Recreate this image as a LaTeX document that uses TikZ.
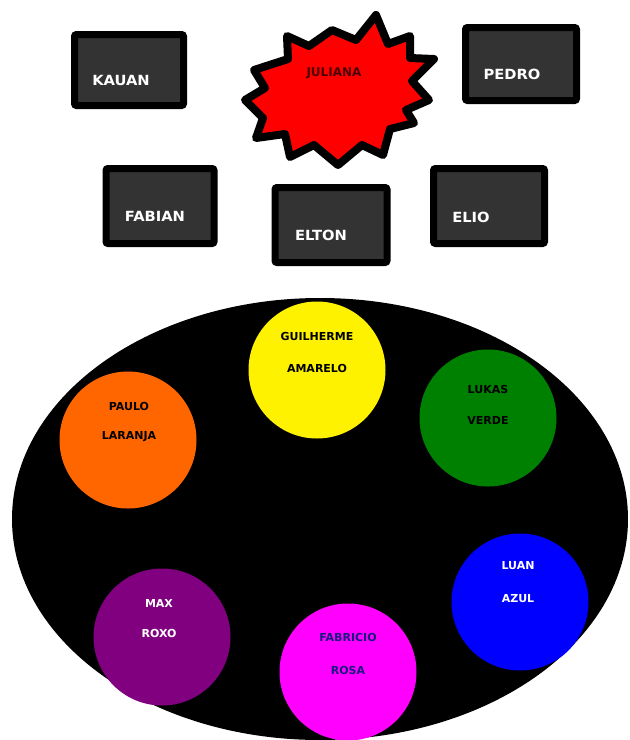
\documentclass[tikz,border=0pt]{standalone}
\usepackage{fontspec}
\setmainfont{DejaVu Sans}
\usetikzlibrary{shapes.geometric}
\definecolor{boxgray}{HTML}{333333}
\definecolor{discorange}{HTML}{FF6600}
\definecolor{discgreen}{HTML}{008000}
\definecolor{discpurple}{HTML}{800080}
\definecolor{discmagenta}{HTML}{FF00FF}
\definecolor{julianatext}{HTML}{4A0000}
\definecolor{rosatext}{HTML}{1A1A80}
\begin{document}
\begin{tikzpicture}[x=1pt,y=-1pt,
  namebox/.style={draw=black, line width=7pt, fill=boxgray, rounded corners=2pt, inner sep=0pt},
  boxtext/.style={text=white, font=\bfseries\fontsize{14}{14}\selectfont, inner sep=0pt, xscale=1.05},
  disc/.style={circle, minimum size=137pt, inner sep=0pt, draw=none},
  disctext/.style={font=\bfseries\fontsize{11}{11}\selectfont, inner sep=0pt},
  burst/.style={draw=black, line width=8pt, line join=round, fill=red}]
\useasboundingbox (0,0) rectangle (630,740);

% top name boxes
\node[namebox, minimum width=109pt, minimum height=71pt] (kauanbox) at (129,70) {};
\node[boxtext] (kauan) at (121,80) {KAUAN};
\node[namebox, minimum width=111pt, minimum height=73pt] (pedrobox) at (521,64) {};
\node[boxtext] (pedro) at (512,74) {PEDRO};
\node[namebox, minimum width=108pt, minimum height=75pt] (fabianbox) at (160,206) {};
\node[boxtext] (fabian) at (155,216) {FABIAN};
\node[namebox, minimum width=112pt, minimum height=75pt] (eltonbox) at (331,225) {};
\node[boxtext] (elton) at (321,235) {ELTON};
\node[namebox, minimum width=111pt, minimum height=75pt] (eliobox) at (489,206) {};
\node[boxtext] (elio) at (471,217) {ELIO};

% starburst
\draw[burst] (376,15) -- (388,44) -- (410,36) -- (410,58) -- (434,59)
  -- (412,81) -- (429,100) -- (406,110) -- (414,123) -- (390,129)
  -- (383,155) -- (362,145) -- (338,165) -- (314,145) -- (290,157)
  -- (285,134) -- (256,138) -- (263,118) -- (245,100) -- (265,88)
  -- (254,70) -- (288,59) -- (287,36) -- (309,46) -- (332,30)
  -- (356,40) -- cycle;
\node[font=\bfseries\fontsize{12}{12}\selectfont, text=julianatext, inner sep=0pt] (juliana) at (334,73) {JULIANA};

% table
\node[ellipse, fill=black, draw=none, minimum width=616pt, minimum height=442pt, inner sep=0pt] (table) at (320,519) {};

% discs
\node[disc, fill=yellow] (yellowdisc) at (317,370) {};
\node[disctext, text=black] at (317,336) {GUILHERME};
\node[disctext, text=black] at (317,368) {AMARELO};

\node[disc, fill=discgreen] (greendisc) at (488,418) {};
\node[disctext, text=black] at (488,389) {LUKAS};
\node[disctext, text=black] at (488,420) {VERDE};

\node[disc, fill=discorange] (orangedisc) at (128,440) {};
\node[disctext, text=black] at (129,406) {PAULO};
\node[disctext, text=black] at (129,437) {LARANJA};

\node[disc, fill=blue] (bluedisc) at (520,602) {};
\node[disctext, text=white] at (518,566) {LUAN};
\node[disctext, text=white] at (518,599) {AZUL};

\node[disc, fill=discpurple] (purpledisc) at (162,637) {};
\node[disctext, text=white] at (159,603) {MAX};
\node[disctext, text=white] at (159,633) {ROXO};

\node[disc, fill=discmagenta] (magentadisc) at (348,672) {};
\node[disctext, text=rosatext] at (348,637) {FABRICIO};
\node[disctext, text=rosatext] at (348,670) {ROSA};
\end{tikzpicture}
\end{document}
